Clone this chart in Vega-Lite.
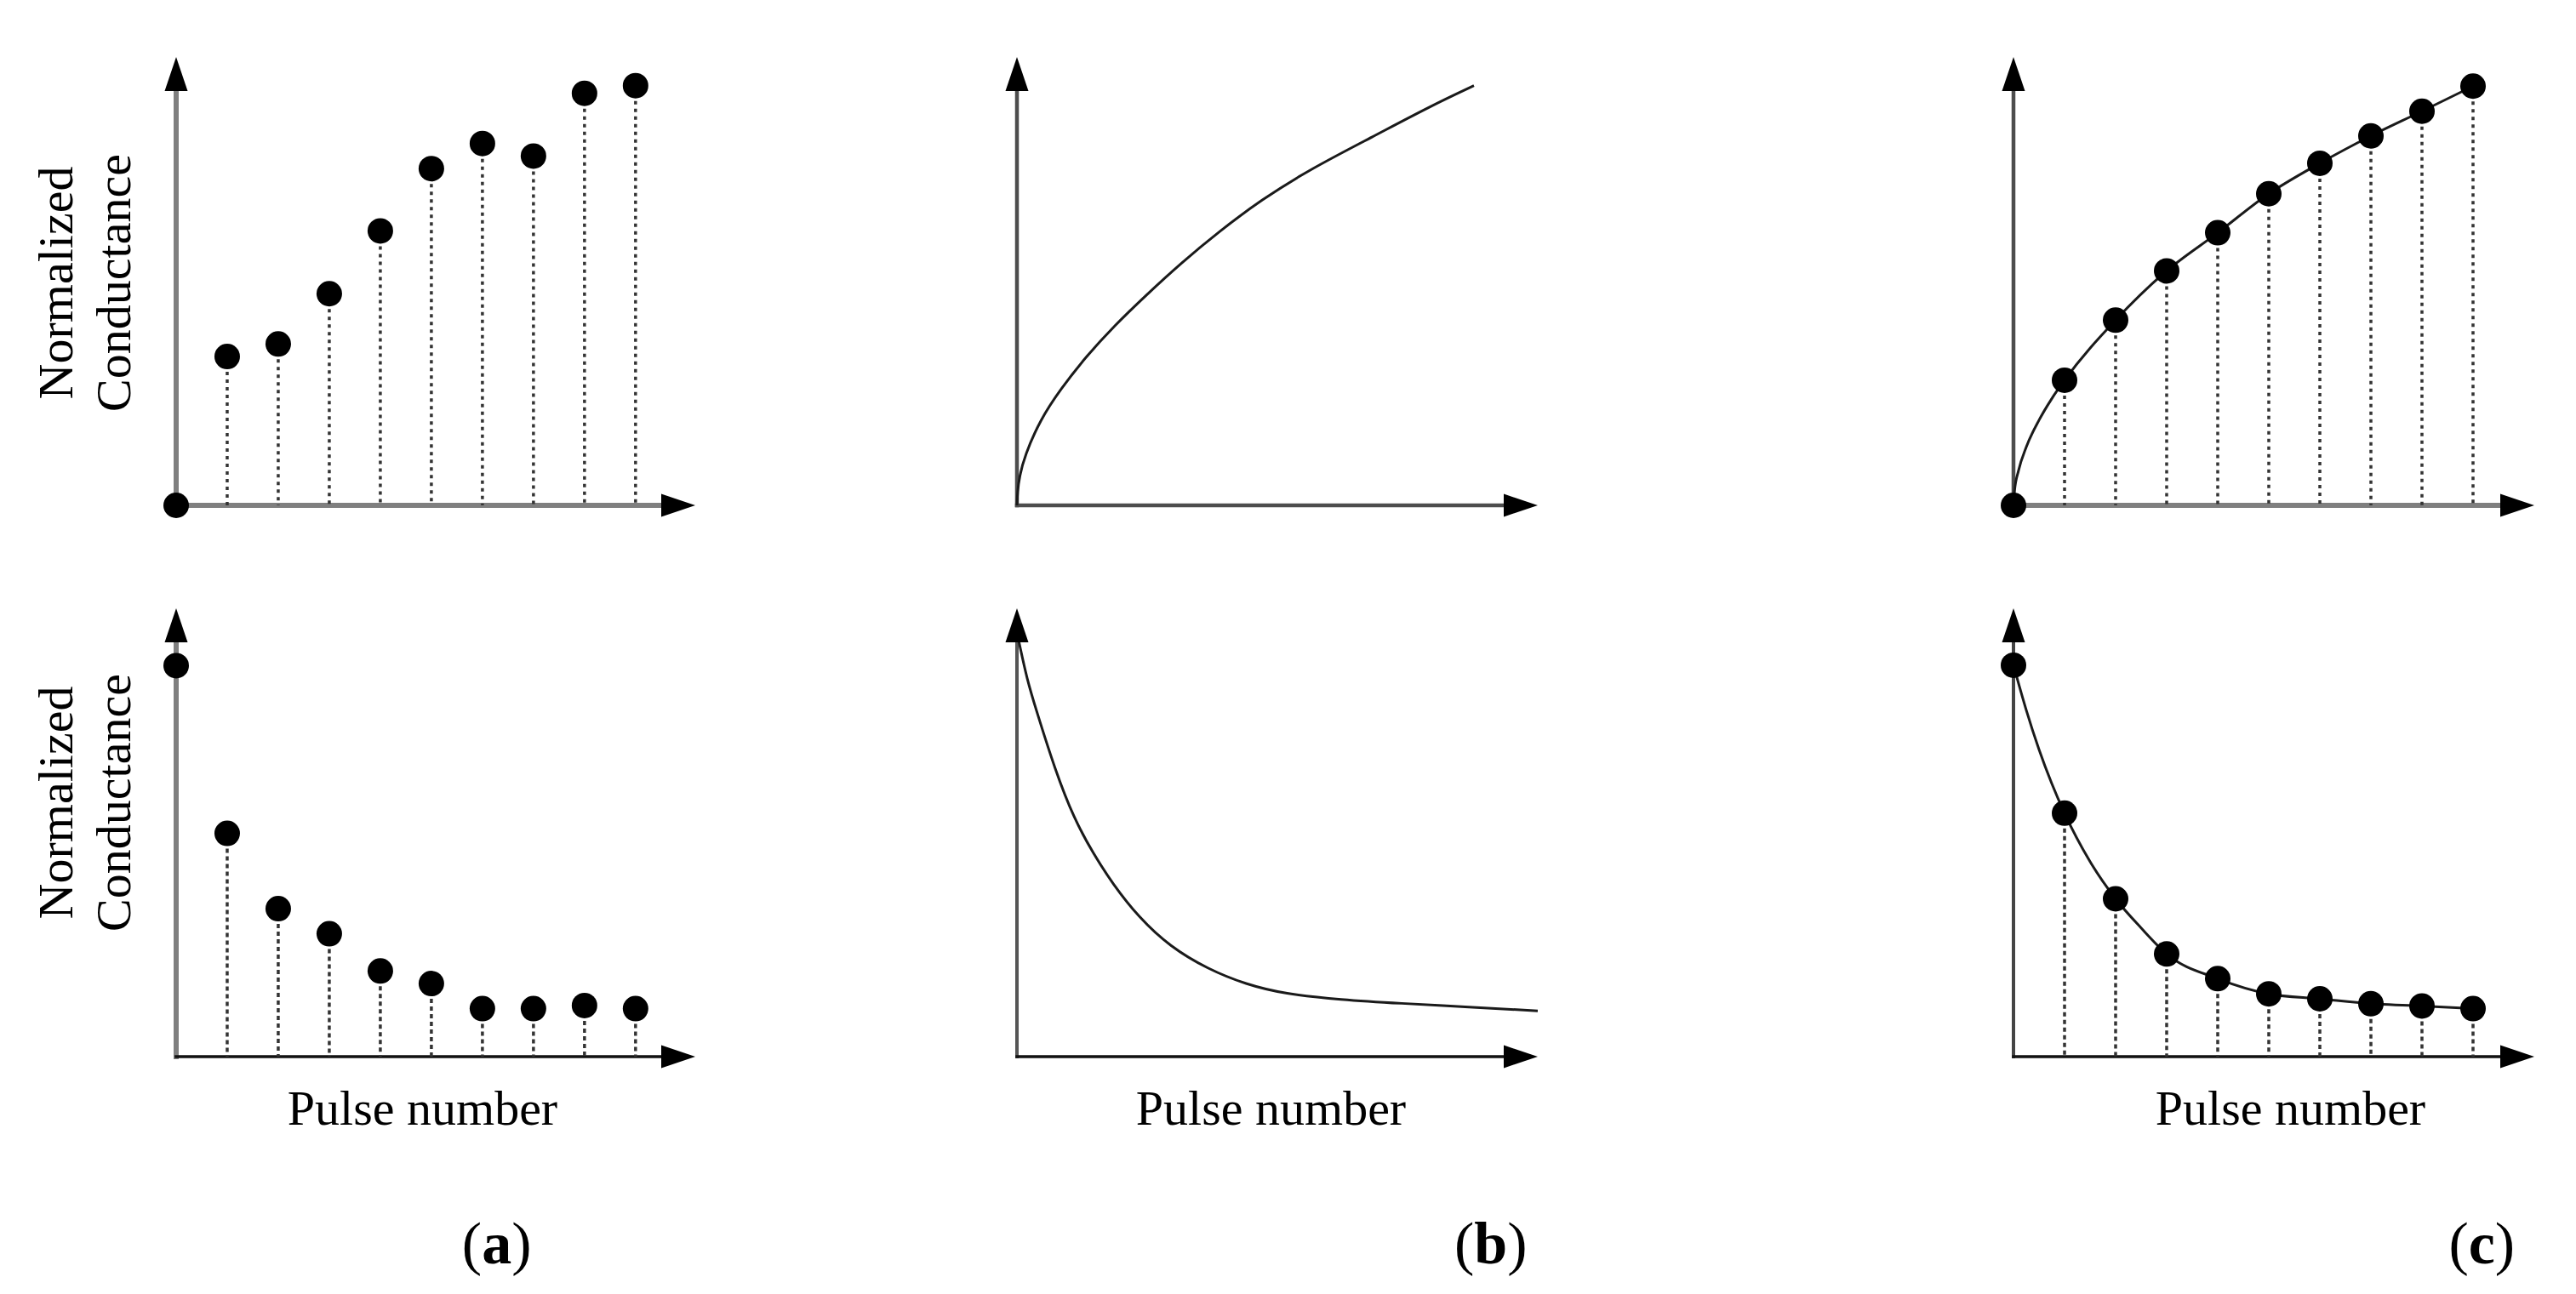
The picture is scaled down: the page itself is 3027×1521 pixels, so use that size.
{
  "$schema": "https://vega.github.io/schema/vega-lite/v6.json",
  "background": "white",
  "padding": {"left": 38, "top": 67, "right": 10, "bottom": 10},
  "config": {
    "view": {"stroke": null},
    "font": "Liberation Serif",
    "axis": {"domain": false, "ticks": false, "labels": false, "grid": false, "titleFont": "Liberation Serif", "titleFontSize": 58, "titleFontWeight": "normal", "titleColor": "black"}
  },
  "columns": 3,
  "spacing": {"column": 378, "row": 121},
  "bounds": "flush",
  "align": "each",
  "datasets": {
    "a_top": [
      {"pulse": 0, "g": 0}, {"pulse": 1, "g": 0.332}, {"pulse": 2, "g": 0.36}, {"pulse": 3, "g": 0.472}, {"pulse": 4, "g": 0.612},
      {"pulse": 5, "g": 0.751}, {"pulse": 6, "g": 0.807}, {"pulse": 7, "g": 0.779}, {"pulse": 8, "g": 0.919}, {"pulse": 9, "g": 0.936}
    ],
    "a_bot": [
      {"pulse": 0, "g": 0.872}, {"pulse": 1, "g": 0.498}, {"pulse": 2, "g": 0.33}, {"pulse": 3, "g": 0.274}, {"pulse": 4, "g": 0.191},
      {"pulse": 5, "g": 0.163}, {"pulse": 6, "g": 0.107}, {"pulse": 7, "g": 0.107}, {"pulse": 8, "g": 0.114}, {"pulse": 9, "g": 0.107}
    ],
    "c_top": [
      {"pulse": 0, "g": 0}, {"pulse": 1, "g": 0.279}, {"pulse": 2, "g": 0.413}, {"pulse": 3, "g": 0.523}, {"pulse": 4, "g": 0.608},
      {"pulse": 5, "g": 0.695}, {"pulse": 6, "g": 0.763}, {"pulse": 7, "g": 0.824}, {"pulse": 8, "g": 0.879}, {"pulse": 9, "g": 0.935}
    ],
    "c_bot": [
      {"pulse": 0, "g": 0.873}, {"pulse": 1, "g": 0.543}, {"pulse": 2, "g": 0.352}, {"pulse": 3, "g": 0.229}, {"pulse": 4, "g": 0.174},
      {"pulse": 5, "g": 0.14}, {"pulse": 6, "g": 0.129}, {"pulse": 7, "g": 0.118}, {"pulse": 8, "g": 0.113}, {"pulse": 9, "g": 0.107}
    ],
    "c_top_curve": [
      {"pulse": 0, "g": 0}, {"pulse": 0.02, "g": 0.032}, {"pulse": 0.1, "g": 0.078}, {"pulse": 0.25, "g": 0.13}, {"pulse": 0.5, "g": 0.19},
      {"pulse": 0.75, "g": 0.238}, {"pulse": 1, "g": 0.279}, {"pulse": 2, "g": 0.413}, {"pulse": 3, "g": 0.523}, {"pulse": 4, "g": 0.608},
      {"pulse": 5, "g": 0.695}, {"pulse": 6, "g": 0.763}, {"pulse": 7, "g": 0.824}, {"pulse": 8, "g": 0.879}, {"pulse": 9, "g": 0.935}
    ],
    "c_bot_curve": [
      {"pulse": 0, "g": 0.873}, {"pulse": 0.25, "g": 0.773}, {"pulse": 0.5, "g": 0.685}, {"pulse": 0.75, "g": 0.609}, {"pulse": 1, "g": 0.543},
      {"pulse": 1.5, "g": 0.435}, {"pulse": 2, "g": 0.352}, {"pulse": 2.5, "g": 0.287}, {"pulse": 3, "g": 0.229}, {"pulse": 4, "g": 0.174},
      {"pulse": 5, "g": 0.14}, {"pulse": 6, "g": 0.129}, {"pulse": 7, "g": 0.118}, {"pulse": 8, "g": 0.113}, {"pulse": 9, "g": 0.107}
    ],
    "b_top_curve": [
      {"pulse": 0, "g": 0}, {"pulse": 0.01, "g": 0.03}, {"pulse": 0.05, "g": 0.065}, {"pulse": 0.15, "g": 0.11}, {"pulse": 0.45, "g": 0.19},
      {"pulse": 0.86, "g": 0.26}, {"pulse": 1.34, "g": 0.33}, {"pulse": 1.9, "g": 0.4}, {"pulse": 2.54, "g": 0.47}, {"pulse": 3.21, "g": 0.54},
      {"pulse": 3.96, "g": 0.611}, {"pulse": 4.78, "g": 0.681}, {"pulse": 5.76, "g": 0.751}, {"pulse": 6.95, "g": 0.821}, {"pulse": 8.11, "g": 0.891},
      {"pulse": 8.95, "g": 0.936}
    ],
    "b_bot_curve": [
      {"pulse": 0.03, "g": 0.93}, {"pulse": 0.2, "g": 0.84}, {"pulse": 0.37, "g": 0.776}, {"pulse": 0.745, "g": 0.64}, {"pulse": 1.12, "g": 0.53},
      {"pulse": 1.49, "g": 0.454}, {"pulse": 1.87, "g": 0.386}, {"pulse": 2.39, "g": 0.31}, {"pulse": 2.99, "g": 0.246}, {"pulse": 3.74, "g": 0.195},
      {"pulse": 4.49, "g": 0.161}, {"pulse": 5.23, "g": 0.14}, {"pulse": 6.35, "g": 0.127}, {"pulse": 7.47, "g": 0.119}, {"pulse": 8.97, "g": 0.11},
      {"pulse": 10.2, "g": 0.102}
    ],
    "lab_a": [{"pulse": 6.28, "letter": "a"}],
    "lab_b": [{"pulse": 9.28, "letter": "b"}],
    "lab_c": [{"pulse": 9.17, "letter": "c"}]
  },
  "concat": [
    {
      "width": 610, "height": 527,
      "layer": [
        {"data": {"values": [{}]}, "mark": {"type": "rule", "color": "#7f7f7f", "strokeWidth": 6, "strokeCap": "square"},
         "encoding": {
           "x": {"datum": 0, "type": "quantitative", "scale": {"domain": [0, 10.17], "nice": false, "zero": false}, "axis": null},
           "y": {"datum": 0, "type": "quantitative", "scale": {"domain": [0, 1], "nice": false, "zero": false},
                 "axis": {"title": ["Normalized", "Conductance"], "titleAngle": 270, "titleAlign": "center", "titleBaseline": "alphabetic", "titleLineHeight": 68, "titleX": -122.7, "titleY": 265}},
           "y2": {"datum": 0.93}}},
        {"data": {"values": [{}]}, "mark": {"type": "rule", "color": "#7f7f7f", "strokeWidth": 6, "strokeCap": "square"},
         "encoding": {
           "x": {"datum": 0, "type": "quantitative", "scale": {"domain": [0, 10.17], "nice": false, "zero": false}, "axis": null},
           "x2": {"datum": 9.8},
           "y": {"datum": 0, "type": "quantitative", "scale": {"domain": [0, 1], "nice": false, "zero": false},
                 "axis": {"title": ["Normalized", "Conductance"], "titleAngle": 270, "titleAlign": "center", "titleBaseline": "alphabetic", "titleLineHeight": 68, "titleX": -122.7, "titleY": 265}}}},
        {"data": {"name": "a_top"}, "transform": [{"filter": "datum.pulse > 0"}],
         "mark": {"type": "rule", "color": "#333333", "strokeWidth": 3.5, "strokeDash": [4, 5]},
         "encoding": {
           "x": {"field": "pulse", "type": "quantitative", "scale": {"domain": [0, 10.17], "nice": false, "zero": false}, "axis": null},
           "y": {"field": "g", "type": "quantitative", "scale": {"domain": [0, 1], "nice": false, "zero": false},
                 "axis": {"title": ["Normalized", "Conductance"], "titleAngle": 270, "titleAlign": "center", "titleBaseline": "alphabetic", "titleLineHeight": 68, "titleX": -122.7, "titleY": 265}},
           "y2": {"datum": 0}}},
        {"data": {"name": "a_top"}, "mark": {"type": "circle", "size": 900, "color": "black", "opacity": 1},
         "encoding": {
           "x": {"field": "pulse", "type": "quantitative", "scale": {"domain": [0, 10.17], "nice": false, "zero": false}, "axis": null},
           "y": {"field": "g", "type": "quantitative", "scale": {"domain": [0, 1], "nice": false, "zero": false},
                 "axis": {"title": ["Normalized", "Conductance"], "titleAngle": 270, "titleAlign": "center", "titleBaseline": "alphabetic", "titleLineHeight": 68, "titleX": -122.7, "titleY": 265}}}},
        {"data": {"values": [{}]}, "mark": {"type": "point", "shape": "M-2,-0.675L0,0L-2,0.675Z", "size": 1600, "filled": true, "color": "black", "opacity": 1},
         "encoding": {
           "x": {"datum": 10.17, "type": "quantitative", "scale": {"domain": [0, 10.17], "nice": false, "zero": false}, "axis": null},
           "y": {"datum": 0, "type": "quantitative", "scale": {"domain": [0, 1], "nice": false, "zero": false},
                 "axis": {"title": ["Normalized", "Conductance"], "titleAngle": 270, "titleAlign": "center", "titleBaseline": "alphabetic", "titleLineHeight": 68, "titleX": -122.7, "titleY": 265}}}},
        {"data": {"values": [{}]}, "mark": {"type": "point", "shape": "M-0.675,2L0,0L0.675,2Z", "size": 1600, "filled": true, "color": "black", "opacity": 1},
         "encoding": {
           "x": {"datum": 0, "type": "quantitative", "scale": {"domain": [0, 10.17], "nice": false, "zero": false}, "axis": null},
           "y": {"datum": 1, "type": "quantitative", "scale": {"domain": [0, 1], "nice": false, "zero": false},
                 "axis": {"title": ["Normalized", "Conductance"], "titleAngle": 270, "titleAlign": "center", "titleBaseline": "alphabetic", "titleLineHeight": 68, "titleX": -122.7, "titleY": 265}}}}
      ]
    },
    {
      "width": 793, "height": 527,
      "layer": [
        {"data": {"values": [{}]}, "mark": {"type": "rule", "color": "#4d4d4d", "strokeWidth": 4.5, "strokeCap": "square"},
         "encoding": {
           "x": {"datum": 0, "type": "quantitative", "scale": {"domain": [0, 13.217], "nice": false, "zero": false}, "axis": null},
           "y": {"datum": 0, "type": "quantitative", "scale": {"domain": [0, 1], "nice": false, "zero": false}, "axis": null},
           "y2": {"datum": 0.93}}},
        {"data": {"values": [{}]}, "mark": {"type": "rule", "color": "#4d4d4d", "strokeWidth": 4.5, "strokeCap": "square"},
         "encoding": {
           "x": {"datum": 0, "type": "quantitative", "scale": {"domain": [0, 13.217], "nice": false, "zero": false}, "axis": null},
           "x2": {"datum": 9.8},
           "y": {"datum": 0, "type": "quantitative", "scale": {"domain": [0, 1], "nice": false, "zero": false}, "axis": null}}},
        {"data": {"name": "b_top_curve"}, "mark": {"type": "line", "interpolate": "basis", "color": "#1a1a1a", "strokeWidth": 3},
         "encoding": {
           "x": {"field": "pulse", "type": "quantitative", "scale": {"domain": [0, 13.217], "nice": false, "zero": false}, "axis": null},
           "y": {"field": "g", "type": "quantitative", "scale": {"domain": [0, 1], "nice": false, "zero": false}, "axis": null}}},
        {"data": {"values": [{}]}, "mark": {"type": "point", "shape": "M-2,-0.675L0,0L-2,0.675Z", "size": 1600, "filled": true, "color": "black", "opacity": 1},
         "encoding": {
           "x": {"datum": 10.2, "type": "quantitative", "scale": {"domain": [0, 13.217], "nice": false, "zero": false}, "axis": null},
           "y": {"datum": 0, "type": "quantitative", "scale": {"domain": [0, 1], "nice": false, "zero": false}, "axis": null}}},
        {"data": {"values": [{}]}, "mark": {"type": "point", "shape": "M-0.675,2L0,0L0.675,2Z", "size": 1600, "filled": true, "color": "black", "opacity": 1},
         "encoding": {
           "x": {"datum": 0, "type": "quantitative", "scale": {"domain": [0, 13.217], "nice": false, "zero": false}, "axis": null},
           "y": {"datum": 1, "type": "quantitative", "scale": {"domain": [0, 1], "nice": false, "zero": false}, "axis": null}}}
      ]
    },
    {
      "width": 612, "height": 527,
      "layer": [
        {"data": {"values": [{}]}, "mark": {"type": "rule", "color": "#4d4d4d", "strokeWidth": 4.5, "strokeCap": "square"},
         "encoding": {
           "x": {"datum": 0, "type": "quantitative", "scale": {"domain": [0, 10.2], "nice": false, "zero": false}, "axis": null},
           "y": {"datum": 0, "type": "quantitative", "scale": {"domain": [0, 1], "nice": false, "zero": false}, "axis": null},
           "y2": {"datum": 0.93}}},
        {"data": {"values": [{}]}, "mark": {"type": "rule", "color": "#7f7f7f", "strokeWidth": 6, "strokeCap": "square"},
         "encoding": {
           "x": {"datum": 0, "type": "quantitative", "scale": {"domain": [0, 10.2], "nice": false, "zero": false}, "axis": null},
           "x2": {"datum": 9.8},
           "y": {"datum": 0, "type": "quantitative", "scale": {"domain": [0, 1], "nice": false, "zero": false}, "axis": null}}},
        {"data": {"name": "c_top"}, "transform": [{"filter": "datum.pulse > 0"}],
         "mark": {"type": "rule", "color": "#333333", "strokeWidth": 3.5, "strokeDash": [4, 5]},
         "encoding": {
           "x": {"field": "pulse", "type": "quantitative", "scale": {"domain": [0, 10.2], "nice": false, "zero": false}, "axis": null},
           "y": {"field": "g", "type": "quantitative", "scale": {"domain": [0, 1], "nice": false, "zero": false}, "axis": null},
           "y2": {"datum": 0}}},
        {"data": {"name": "c_top_curve"}, "mark": {"type": "line", "interpolate": "monotone", "color": "#1a1a1a", "strokeWidth": 3},
         "encoding": {
           "x": {"field": "pulse", "type": "quantitative", "scale": {"domain": [0, 10.2], "nice": false, "zero": false}, "axis": null},
           "y": {"field": "g", "type": "quantitative", "scale": {"domain": [0, 1], "nice": false, "zero": false}, "axis": null}}},
        {"data": {"name": "c_top"}, "mark": {"type": "circle", "size": 900, "color": "black", "opacity": 1},
         "encoding": {
           "x": {"field": "pulse", "type": "quantitative", "scale": {"domain": [0, 10.2], "nice": false, "zero": false}, "axis": null},
           "y": {"field": "g", "type": "quantitative", "scale": {"domain": [0, 1], "nice": false, "zero": false}, "axis": null}}},
        {"data": {"values": [{}]}, "mark": {"type": "point", "shape": "M-2,-0.675L0,0L-2,0.675Z", "size": 1600, "filled": true, "color": "black", "opacity": 1},
         "encoding": {
           "x": {"datum": 10.2, "type": "quantitative", "scale": {"domain": [0, 10.2], "nice": false, "zero": false}, "axis": null},
           "y": {"datum": 0, "type": "quantitative", "scale": {"domain": [0, 1], "nice": false, "zero": false}, "axis": null}}},
        {"data": {"values": [{}]}, "mark": {"type": "point", "shape": "M-0.675,2L0,0L0.675,2Z", "size": 1600, "filled": true, "color": "black", "opacity": 1},
         "encoding": {
           "x": {"datum": 0, "type": "quantitative", "scale": {"domain": [0, 10.2], "nice": false, "zero": false}, "axis": null},
           "y": {"datum": 1, "type": "quantitative", "scale": {"domain": [0, 1], "nice": false, "zero": false}, "axis": null}}}
      ]
    },
    {
      "width": 610, "height": 527,
      "layer": [
        {"data": {"values": [{}]}, "mark": {"type": "rule", "color": "#7f7f7f", "strokeWidth": 6, "strokeCap": "square"},
         "encoding": {
           "x": {"datum": 0, "type": "quantitative", "scale": {"domain": [0, 10.17], "nice": false, "zero": false},
                 "axis": {"title": "Pulse number", "titleAlign": "center", "titleBaseline": "alphabetic", "titleX": 289, "titleY": 79}},
           "y": {"datum": 0, "type": "quantitative", "scale": {"domain": [0, 1], "nice": false, "zero": false},
                 "axis": {"title": ["Normalized", "Conductance"], "titleAngle": 270, "titleAlign": "center", "titleBaseline": "alphabetic", "titleLineHeight": 68, "titleX": -122.7, "titleY": 228}},
           "y2": {"datum": 0.93}}},
        {"data": {"values": [{}]}, "mark": {"type": "rule", "color": "#111111", "strokeWidth": 3.5, "strokeCap": "square"},
         "encoding": {
           "x": {"datum": 0, "type": "quantitative", "scale": {"domain": [0, 10.17], "nice": false, "zero": false},
                 "axis": {"title": "Pulse number", "titleAlign": "center", "titleBaseline": "alphabetic", "titleX": 289, "titleY": 79}},
           "x2": {"datum": 9.8},
           "y": {"datum": 0, "type": "quantitative", "scale": {"domain": [0, 1], "nice": false, "zero": false},
                 "axis": {"title": ["Normalized", "Conductance"], "titleAngle": 270, "titleAlign": "center", "titleBaseline": "alphabetic", "titleLineHeight": 68, "titleX": -122.7, "titleY": 228}}}},
        {"data": {"name": "a_bot"}, "transform": [{"filter": "datum.pulse > 0"}],
         "mark": {"type": "rule", "color": "#333333", "strokeWidth": 3.5, "strokeDash": [5, 4]},
         "encoding": {
           "x": {"field": "pulse", "type": "quantitative", "scale": {"domain": [0, 10.17], "nice": false, "zero": false},
                 "axis": {"title": "Pulse number", "titleAlign": "center", "titleBaseline": "alphabetic", "titleX": 289, "titleY": 79}},
           "y": {"field": "g", "type": "quantitative", "scale": {"domain": [0, 1], "nice": false, "zero": false},
                 "axis": {"title": ["Normalized", "Conductance"], "titleAngle": 270, "titleAlign": "center", "titleBaseline": "alphabetic", "titleLineHeight": 68, "titleX": -122.7, "titleY": 228}},
           "y2": {"datum": 0}}},
        {"data": {"name": "a_bot"}, "mark": {"type": "circle", "size": 900, "color": "black", "opacity": 1},
         "encoding": {
           "x": {"field": "pulse", "type": "quantitative", "scale": {"domain": [0, 10.17], "nice": false, "zero": false},
                 "axis": {"title": "Pulse number", "titleAlign": "center", "titleBaseline": "alphabetic", "titleX": 289, "titleY": 79}},
           "y": {"field": "g", "type": "quantitative", "scale": {"domain": [0, 1], "nice": false, "zero": false},
                 "axis": {"title": ["Normalized", "Conductance"], "titleAngle": 270, "titleAlign": "center", "titleBaseline": "alphabetic", "titleLineHeight": 68, "titleX": -122.7, "titleY": 228}}}},
        {"data": {"values": [{}]}, "mark": {"type": "point", "shape": "M-2,-0.675L0,0L-2,0.675Z", "size": 1600, "filled": true, "color": "black", "opacity": 1},
         "encoding": {
           "x": {"datum": 10.17, "type": "quantitative", "scale": {"domain": [0, 10.17], "nice": false, "zero": false},
                 "axis": {"title": "Pulse number", "titleAlign": "center", "titleBaseline": "alphabetic", "titleX": 289, "titleY": 79}},
           "y": {"datum": 0, "type": "quantitative", "scale": {"domain": [0, 1], "nice": false, "zero": false},
                 "axis": {"title": ["Normalized", "Conductance"], "titleAngle": 270, "titleAlign": "center", "titleBaseline": "alphabetic", "titleLineHeight": 68, "titleX": -122.7, "titleY": 228}}}},
        {"data": {"values": [{}]}, "mark": {"type": "point", "shape": "M-0.675,2L0,0L0.675,2Z", "size": 1600, "filled": true, "color": "black", "opacity": 1},
         "encoding": {
           "x": {"datum": 0, "type": "quantitative", "scale": {"domain": [0, 10.17], "nice": false, "zero": false},
                 "axis": {"title": "Pulse number", "titleAlign": "center", "titleBaseline": "alphabetic", "titleX": 289, "titleY": 79}},
           "y": {"datum": 1, "type": "quantitative", "scale": {"domain": [0, 1], "nice": false, "zero": false},
                 "axis": {"title": ["Normalized", "Conductance"], "titleAngle": 270, "titleAlign": "center", "titleBaseline": "alphabetic", "titleLineHeight": 68, "titleX": -122.7, "titleY": 228}}}}
      ]
    },
    {
      "width": 793, "height": 527,
      "layer": [
        {"data": {"values": [{}]}, "mark": {"type": "rule", "color": "#555555", "strokeWidth": 4, "strokeCap": "square"},
         "encoding": {
           "x": {"datum": 0, "type": "quantitative", "scale": {"domain": [0, 13.217], "nice": false, "zero": false},
                 "axis": {"title": "Pulse number", "titleAlign": "center", "titleBaseline": "alphabetic", "titleX": 298, "titleY": 79}},
           "y": {"datum": 0, "type": "quantitative", "scale": {"domain": [0, 1], "nice": false, "zero": false}, "axis": null},
           "y2": {"datum": 0.93}}},
        {"data": {"values": [{}]}, "mark": {"type": "rule", "color": "#111111", "strokeWidth": 3.5, "strokeCap": "square"},
         "encoding": {
           "x": {"datum": 0, "type": "quantitative", "scale": {"domain": [0, 13.217], "nice": false, "zero": false},
                 "axis": {"title": "Pulse number", "titleAlign": "center", "titleBaseline": "alphabetic", "titleX": 298, "titleY": 79}},
           "x2": {"datum": 9.8},
           "y": {"datum": 0, "type": "quantitative", "scale": {"domain": [0, 1], "nice": false, "zero": false}, "axis": null}}},
        {"data": {"name": "b_bot_curve"}, "mark": {"type": "line", "interpolate": "basis", "color": "#1a1a1a", "strokeWidth": 3},
         "encoding": {
           "x": {"field": "pulse", "type": "quantitative", "scale": {"domain": [0, 13.217], "nice": false, "zero": false},
                 "axis": {"title": "Pulse number", "titleAlign": "center", "titleBaseline": "alphabetic", "titleX": 298, "titleY": 79}},
           "y": {"field": "g", "type": "quantitative", "scale": {"domain": [0, 1], "nice": false, "zero": false}, "axis": null}}},
        {"data": {"values": [{}]}, "mark": {"type": "point", "shape": "M-2,-0.675L0,0L-2,0.675Z", "size": 1600, "filled": true, "color": "black", "opacity": 1},
         "encoding": {
           "x": {"datum": 10.2, "type": "quantitative", "scale": {"domain": [0, 13.217], "nice": false, "zero": false},
                 "axis": {"title": "Pulse number", "titleAlign": "center", "titleBaseline": "alphabetic", "titleX": 298, "titleY": 79}},
           "y": {"datum": 0, "type": "quantitative", "scale": {"domain": [0, 1], "nice": false, "zero": false}, "axis": null}}},
        {"data": {"values": [{}]}, "mark": {"type": "point", "shape": "M-0.675,2L0,0L0.675,2Z", "size": 1600, "filled": true, "color": "black", "opacity": 1},
         "encoding": {
           "x": {"datum": 0, "type": "quantitative", "scale": {"domain": [0, 13.217], "nice": false, "zero": false},
                 "axis": {"title": "Pulse number", "titleAlign": "center", "titleBaseline": "alphabetic", "titleX": 298, "titleY": 79}},
           "y": {"datum": 1, "type": "quantitative", "scale": {"domain": [0, 1], "nice": false, "zero": false}, "axis": null}}}
      ]
    },
    {
      "width": 612, "height": 527,
      "layer": [
        {"data": {"values": [{}]}, "mark": {"type": "rule", "color": "#444444", "strokeWidth": 4, "strokeCap": "square"},
         "encoding": {
           "x": {"datum": 0, "type": "quantitative", "scale": {"domain": [0, 10.2], "nice": false, "zero": false},
                 "axis": {"title": "Pulse number", "titleAlign": "center", "titleBaseline": "alphabetic", "titleX": 325, "titleY": 79}},
           "y": {"datum": 0, "type": "quantitative", "scale": {"domain": [0, 1], "nice": false, "zero": false}, "axis": null},
           "y2": {"datum": 0.93}}},
        {"data": {"values": [{}]}, "mark": {"type": "rule", "color": "#111111", "strokeWidth": 3.5, "strokeCap": "square"},
         "encoding": {
           "x": {"datum": 0, "type": "quantitative", "scale": {"domain": [0, 10.2], "nice": false, "zero": false},
                 "axis": {"title": "Pulse number", "titleAlign": "center", "titleBaseline": "alphabetic", "titleX": 325, "titleY": 79}},
           "x2": {"datum": 9.8},
           "y": {"datum": 0, "type": "quantitative", "scale": {"domain": [0, 1], "nice": false, "zero": false}, "axis": null}}},
        {"data": {"name": "c_bot"}, "transform": [{"filter": "datum.pulse > 0"}],
         "mark": {"type": "rule", "color": "#333333", "strokeWidth": 3.5, "strokeDash": [5, 4]},
         "encoding": {
           "x": {"field": "pulse", "type": "quantitative", "scale": {"domain": [0, 10.2], "nice": false, "zero": false},
                 "axis": {"title": "Pulse number", "titleAlign": "center", "titleBaseline": "alphabetic", "titleX": 325, "titleY": 79}},
           "y": {"field": "g", "type": "quantitative", "scale": {"domain": [0, 1], "nice": false, "zero": false}, "axis": null},
           "y2": {"datum": 0}}},
        {"data": {"name": "c_bot_curve"}, "mark": {"type": "line", "interpolate": "monotone", "color": "#1a1a1a", "strokeWidth": 3},
         "encoding": {
           "x": {"field": "pulse", "type": "quantitative", "scale": {"domain": [0, 10.2], "nice": false, "zero": false},
                 "axis": {"title": "Pulse number", "titleAlign": "center", "titleBaseline": "alphabetic", "titleX": 325, "titleY": 79}},
           "y": {"field": "g", "type": "quantitative", "scale": {"domain": [0, 1], "nice": false, "zero": false}, "axis": null}}},
        {"data": {"name": "c_bot"}, "mark": {"type": "circle", "size": 900, "color": "black", "opacity": 1},
         "encoding": {
           "x": {"field": "pulse", "type": "quantitative", "scale": {"domain": [0, 10.2], "nice": false, "zero": false},
                 "axis": {"title": "Pulse number", "titleAlign": "center", "titleBaseline": "alphabetic", "titleX": 325, "titleY": 79}},
           "y": {"field": "g", "type": "quantitative", "scale": {"domain": [0, 1], "nice": false, "zero": false}, "axis": null}}},
        {"data": {"values": [{}]}, "mark": {"type": "point", "shape": "M-2,-0.675L0,0L-2,0.675Z", "size": 1600, "filled": true, "color": "black", "opacity": 1},
         "encoding": {
           "x": {"datum": 10.2, "type": "quantitative", "scale": {"domain": [0, 10.2], "nice": false, "zero": false},
                 "axis": {"title": "Pulse number", "titleAlign": "center", "titleBaseline": "alphabetic", "titleX": 325, "titleY": 79}},
           "y": {"datum": 0, "type": "quantitative", "scale": {"domain": [0, 1], "nice": false, "zero": false}, "axis": null}}},
        {"data": {"values": [{}]}, "mark": {"type": "point", "shape": "M-0.675,2L0,0L0.675,2Z", "size": 1600, "filled": true, "color": "black", "opacity": 1},
         "encoding": {
           "x": {"datum": 0, "type": "quantitative", "scale": {"domain": [0, 10.2], "nice": false, "zero": false},
                 "axis": {"title": "Pulse number", "titleAlign": "center", "titleBaseline": "alphabetic", "titleX": 325, "titleY": 79}},
           "y": {"datum": 1, "type": "quantitative", "scale": {"domain": [0, 1], "nice": false, "zero": false}, "axis": null}}}
      ]
    },
    {
      "width": 610, "height": 122,
      "data": {"name": "lab_a"},
      "encoding": {
        "x": {"field": "pulse", "type": "quantitative", "scale": {"domain": [0, 10.17], "nice": false, "zero": false}, "axis": null},
        "y": {"datum": 0, "type": "quantitative", "scale": {"domain": [0, 1], "nice": false, "zero": false}, "axis": null}
      },
      "layer": [
        {"mark": {"type": "text", "text": "(", "align": "right", "dx": -17.5, "baseline": "alphabetic", "font": "Liberation Serif", "fontSize": 70, "fontWeight": "normal", "color": "black"}},
        {"mark": {"type": "text", "align": "center", "baseline": "alphabetic", "font": "Liberation Serif", "fontSize": 70, "fontWeight": "bold", "color": "black"}, "encoding": {"text": {"field": "letter"}}},
        {"mark": {"type": "text", "text": ")", "align": "left", "dx": 17.5, "baseline": "alphabetic", "font": "Liberation Serif", "fontSize": 70, "fontWeight": "normal", "color": "black"}}
      ]
    },
    {
      "width": 793, "height": 122,
      "data": {"name": "lab_b"},
      "encoding": {
        "x": {"field": "pulse", "type": "quantitative", "scale": {"domain": [0, 13.217], "nice": false, "zero": false}, "axis": null},
        "y": {"datum": 0, "type": "quantitative", "scale": {"domain": [0, 1], "nice": false, "zero": false}, "axis": null}
      },
      "layer": [
        {"mark": {"type": "text", "text": "(", "align": "right", "dx": -19.5, "baseline": "alphabetic", "font": "Liberation Serif", "fontSize": 70, "fontWeight": "normal", "color": "black"}},
        {"mark": {"type": "text", "align": "center", "baseline": "alphabetic", "font": "Liberation Serif", "fontSize": 70, "fontWeight": "bold", "color": "black"}, "encoding": {"text": {"field": "letter"}}},
        {"mark": {"type": "text", "text": ")", "align": "left", "dx": 19.5, "baseline": "alphabetic", "font": "Liberation Serif", "fontSize": 70, "fontWeight": "normal", "color": "black"}}
      ]
    },
    {
      "width": 612, "height": 122,
      "data": {"name": "lab_c"},
      "encoding": {
        "x": {"field": "pulse", "type": "quantitative", "scale": {"domain": [0, 10.2], "nice": false, "zero": false}, "axis": null},
        "y": {"datum": 0, "type": "quantitative", "scale": {"domain": [0, 1], "nice": false, "zero": false}, "axis": null}
      },
      "layer": [
        {"mark": {"type": "text", "text": "(", "align": "right", "dx": -15.5, "baseline": "alphabetic", "font": "Liberation Serif", "fontSize": 70, "fontWeight": "normal", "color": "black"}},
        {"mark": {"type": "text", "align": "center", "baseline": "alphabetic", "font": "Liberation Serif", "fontSize": 70, "fontWeight": "bold", "color": "black"}, "encoding": {"text": {"field": "letter"}}},
        {"mark": {"type": "text", "text": ")", "align": "left", "dx": 15.5, "baseline": "alphabetic", "font": "Liberation Serif", "fontSize": 70, "fontWeight": "normal", "color": "black"}}
      ]
    }
  ]
}
